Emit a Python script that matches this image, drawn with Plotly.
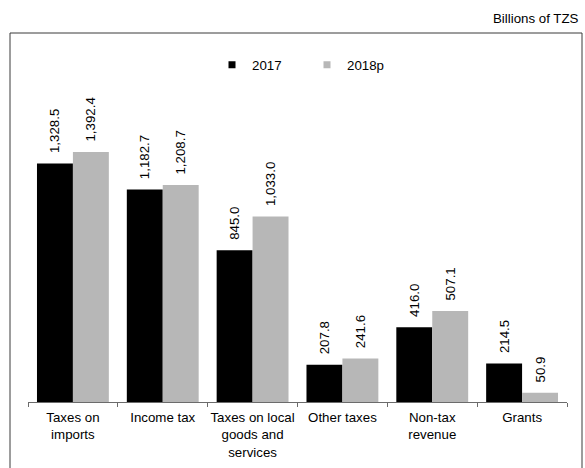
import plotly.graph_objects as go

categories = ["Taxes on<br>imports", "Income tax", "Taxes on local<br>goods and<br>services",
              "Other taxes", "Non-tax<br>revenue", "Grants"]
series_names = ["2017", "2018p"]
values_2017 = [1328.5, 1182.7, 845.0, 207.8, 416.0, 214.5]
values_2018 = [1392.4, 1208.7, 1033.0, 241.6, 507.1, 50.9]
colors = ["#000000", "#b7b7b7"]

W, H = 585, 468
ML, MR, MT, MB = 28, 18, 110, 66
FONT = dict(family="Liberation Sans, Arial, sans-serif", size=13.3, color="#000000")

fig = go.Figure()
for name, vals, col in zip(series_names, [values_2017, values_2018], colors):
    fig.add_trace(go.Bar(
        x=categories, y=vals, name=name, marker=dict(color=col, line=dict(width=0)),
        texttemplate="&nbsp;&nbsp;%{y:,.1f}", textposition="outside", textangle=-90,
        constraintext="none", cliponaxis=False, textfont=FONT, showlegend=False,
    ))
    fig.add_trace(go.Scatter(
        x=[None], y=[None], mode="markers", name=name,
        marker=dict(symbol="square", size=7, color=col), showlegend=True,
    ))

pw = W - ML - MR
ph = H - MT - MB
def px(x):
    return (x - ML) / pw
def py(y):
    return (H - MB - y) / ph

fig.add_shape(type="rect", xref="paper", yref="paper",
              x0=px(10), x1=px(582), y0=py(475), y1=py(33),
              line=dict(color="#3a3a3a", width=1), fillcolor="rgba(0,0,0,0)", layer="below")

fig.add_annotation(text="Billions of TZS", xref="paper", yref="paper",
                   x=px(581), y=py(18), xanchor="right", yanchor="middle",
                   showarrow=False, font=FONT)

fig.update_layout(
    width=W, height=H, margin=dict(l=ML, r=MR, t=MT, b=MB, autoexpand=False),
    paper_bgcolor="white", plot_bgcolor="white",
    barmode="group", bargap=0.2, bargroupgap=0,
    font=FONT,
    legend=dict(orientation="h", x=px(212), y=py(65), xanchor="left", yanchor="middle",
                itemwidth=30, entrywidth=50, entrywidthmode="pixels", font=FONT,
                bgcolor="rgba(0,0,0,0)"),
    xaxis=dict(showline=True, linecolor="#6b6b6b", linewidth=1, ticks="outside",
               tickson="boundaries", ticklen=4, tickcolor="#6b6b6b", showgrid=False,
               tickfont=FONT, tickangle=0, automargin=False, fixedrange=True,
               ticklabelstandoff=3),
    yaxis=dict(visible=False, range=[0, 1626], showgrid=False, zeroline=False,
               automargin=False),
)

fig.write_html("out.html")
